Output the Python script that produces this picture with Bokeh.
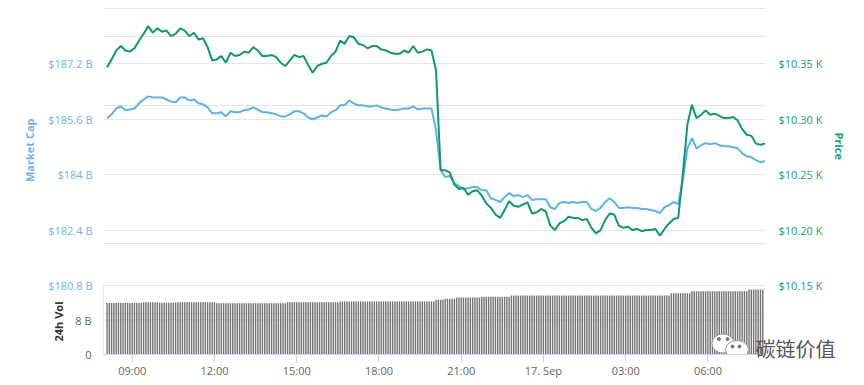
import math
import pandas as pd
from bokeh.plotting import figure
from bokeh.models import (Range1d, LinearAxis, FixedTicker, CustomJSTickFormatter, Span, Grid)
from bokeh.embed import file_html
from bokeh.resources import INLINE

# ---------------- data ----------------
line_times = pd.date_range("2019-09-16 08:05", periods=145, freq="10min")
vol_times = pd.date_range("2019-09-16 08:05", periods=288, freq="5min")

price_usd = [
    10347, 10354, 10362, 10366, 10362, 10361, 10364, 10371, 10377, 10384,
    10378, 10382, 10379, 10380, 10375, 10377, 10382, 10380, 10375, 10378,
    10372, 10373, 10365, 10353, 10354, 10357, 10351, 10360, 10357, 10358,
    10361, 10360, 10365, 10362, 10357, 10357, 10358, 10356, 10351, 10348,
    10353, 10358, 10356, 10357, 10349, 10342, 10348, 10350, 10351, 10357,
    10361, 10371, 10368, 10375, 10374, 10368, 10367, 10364, 10366, 10366,
    10363, 10362, 10360, 10359, 10359, 10362, 10360, 10366, 10360, 10361,
    10363, 10362, 10344, 10254, 10254, 10252, 10241, 10237, 10238, 10232,
    10235, 10236, 10231, 10224, 10220, 10214, 10211, 10218, 10226, 10222,
    10221, 10223, 10225, 10215, 10216, 10219, 10217, 10204, 10200, 10206,
    10208, 10212, 10211, 10211, 10209, 10210, 10202, 10197, 10200, 10209,
    10215, 10214, 10204, 10202, 10203, 10200, 10201, 10199, 10200, 10200,
    10201, 10195, 10201, 10206, 10210, 10211, 10250, 10295, 10313, 10301,
    10304, 10308, 10304, 10305, 10303, 10301, 10301, 10302, 10299, 10291,
    10286, 10285, 10278, 10277, 10278,
]

market_cap_b = [
    185.63, 185.74, 185.91, 185.97, 185.86, 185.88, 185.91, 186.06, 186.17, 186.26,
    186.23, 186.23, 186.23, 186.17, 186.11, 186.09, 186.23, 186.23, 186.14, 186.17,
    186.06, 186.03, 185.94, 185.77, 185.77, 185.80, 185.68, 185.83, 185.80, 185.80,
    185.86, 185.88, 185.94, 185.88, 185.80, 185.80, 185.77, 185.74, 185.68, 185.68,
    185.74, 185.83, 185.83, 185.77, 185.65, 185.60, 185.65, 185.71, 185.68, 185.80,
    185.86, 186.00, 186.00, 186.14, 186.06, 186.00, 186.00, 185.97, 185.97, 186.00,
    185.94, 185.91, 185.88, 185.86, 185.88, 185.91, 185.91, 185.97, 185.88, 185.91,
    185.91, 185.91, 185.28, 184.13, 183.93, 183.96, 183.76, 183.67, 183.58, 183.61,
    183.64, 183.64, 183.55, 183.55, 183.32, 183.27, 183.21, 183.35, 183.47, 183.38,
    183.41, 183.35, 183.41, 183.27, 183.29, 183.29, 183.29, 183.06, 183.01, 183.18,
    183.21, 183.18, 183.21, 183.18, 183.21, 183.21, 183.01, 182.95, 183.04, 183.21,
    183.32, 183.21, 183.04, 183.04, 183.06, 183.04, 183.04, 183.01, 183.01, 182.98,
    182.95, 182.89, 183.06, 183.12, 183.21, 183.15, 183.84, 184.76, 185.05, 184.76,
    184.85, 184.91, 184.88, 184.91, 184.85, 184.82, 184.82, 184.79, 184.76, 184.62,
    184.53, 184.50, 184.42, 184.36, 184.39,
]

volume_24h_b = [
    11.95, 11.95, 11.95, 11.95, 11.95, 11.95, 11.95, 11.95, 11.95, 11.95, 11.95, 11.95,
    11.95, 11.95, 11.95, 11.95, 12.13, 12.13, 12.13, 12.13, 12.13, 12.13, 12.13, 12.00,
    12.00, 12.00, 12.00, 12.00, 12.00, 12.00, 12.00, 12.10, 12.10, 12.10, 12.10, 12.10,
    12.10, 12.10, 12.10, 12.10, 12.10, 12.10, 12.10, 12.10, 12.10, 12.10, 12.10, 12.10,
    11.90, 11.90, 11.90, 11.90, 11.90, 11.90, 11.90, 11.90, 11.90, 11.90, 11.90, 11.90,
    11.90, 11.90, 11.90, 11.90, 11.90, 11.90, 11.90, 11.90, 11.90, 11.90, 11.90, 11.90,
    11.90, 11.90, 11.90, 11.90, 11.90, 11.90, 11.90, 12.10, 12.10, 12.10, 12.10, 12.10,
    12.10, 12.10, 12.10, 12.10, 12.10, 12.10, 12.10, 12.10, 12.10, 12.10, 12.10, 12.10,
    12.10, 12.10, 12.10, 12.10, 12.10, 12.10, 12.30, 12.30, 12.30, 12.30, 12.30, 12.30,
    12.30, 12.30, 12.30, 12.30, 12.30, 12.30, 12.30, 12.30, 12.30, 12.30, 12.30, 12.30,
    12.30, 12.30, 12.30, 12.30, 12.30, 12.30, 12.30, 12.30, 12.30, 12.30, 12.30, 12.30,
    12.30, 12.30, 12.30, 12.30, 12.30, 12.30, 12.30, 12.30, 12.30, 12.30, 12.30, 12.30,
    12.68, 12.68, 12.68, 12.68, 12.90, 12.90, 12.90, 12.90, 12.90, 13.20, 13.20, 13.20,
    13.20, 13.20, 13.20, 13.20, 13.20, 13.20, 13.20, 13.20, 13.38, 13.38, 13.38, 13.38,
    13.38, 13.38, 13.38, 13.38, 13.38, 13.38, 13.38, 13.38, 13.38, 13.68, 13.68, 13.68,
    13.68, 13.68, 13.68, 13.68, 13.68, 13.68, 13.68, 13.68, 13.68, 13.68, 13.68, 13.68,
    13.68, 13.68, 13.68, 13.68, 13.68, 13.68, 13.68, 13.68, 13.68, 13.68, 13.68, 13.68,
    13.68, 13.68, 13.68, 13.68, 13.68, 13.68, 13.68, 13.68, 13.68, 13.68, 13.68, 13.68,
    13.68, 13.68, 13.68, 13.68, 13.68, 13.68, 13.68, 13.68, 13.68, 13.68, 13.68, 13.68,
    13.68, 13.68, 13.68, 13.68, 13.68, 13.68, 13.68, 13.68, 13.68, 13.68, 13.68, 13.68,
    13.68, 13.68, 13.68, 13.68, 13.68, 13.68, 13.68, 14.20, 14.20, 14.20, 14.20, 14.20,
    14.20, 14.20, 14.20, 14.20, 14.68, 14.68, 14.68, 14.68, 14.68, 14.68, 14.68, 14.68,
    14.68, 14.68, 14.68, 14.68, 14.68, 14.68, 14.68, 14.68, 14.68, 14.68, 14.68, 14.68,
    14.68, 14.68, 14.68, 14.68, 14.68, 15.07, 15.07, 15.07, 15.07, 15.07, 15.07, 15.07,
]

cap_ticks = [180.8, 182.4, 184.0, 185.6, 187.2]
price_ticks = [10150, 10200, 10250, 10300, 10350]
vol_ticks = [0, 8]
vol_tick_labels = ["0", "8 B"]
x_tick_times = pd.to_datetime(["2019-09-16 09:00", "2019-09-16 12:00", "2019-09-16 15:00",
                               "2019-09-16 18:00", "2019-09-16 21:00", "2019-09-17 00:00",
                               "2019-09-17 03:00", "2019-09-17 06:00"])
x_tick_labels = ["09:00", "12:00", "15:00", "18:00", "21:00", "17. Sep", "03:00", "06:00"]

# ---------------- styling / layout ----------------
FONT = "Open Sans"
BLUE_LINE = "#5ab3e9"
BLUE_TEXT = "#6fb5ea"
GREEN_LINE = "#0e9a6b"
GREEN_TEXT = "#1c9d72"
GRID = "#e6e6e6"
AXIS_BLUE = "#ccd6eb"

FRAME_W, FRAME_H = 662, 348
LEFT_B, RIGHT_B, TOP_B = 103, 82, 6
x_start = pd.Timestamp("2019-09-16 07:57:10")
x_end = pd.Timestamp("2019-09-17 08:06:00")
cap_lo, cap_hi = 178.808, 188.854
price_lo, price_hi = 10087.75, 10401.7
vol_lo, vol_hi = 0.0, 80.70


def ms(t):
    return float(pd.Timestamp(t).value // 10**6)


def px_to_time(px):
    frac = (px - LEFT_B) / FRAME_W
    return x_start + (x_end - x_start) * frac


def py_to_cap(py):
    return cap_hi - (cap_hi - cap_lo) * (py - TOP_B) / FRAME_H


def py_to_vol(py):
    return vol_hi - (vol_hi - vol_lo) * (py - TOP_B) / FRAME_H


p = figure(frame_width=FRAME_W, frame_height=FRAME_H, x_axis_type="datetime",
           y_axis_location=None,
           x_range=Range1d(x_start, x_end), y_range=Range1d(cap_lo, cap_hi),
           output_backend="svg", toolbar_location=None,
           min_border_left=LEFT_B, min_border_right=RIGHT_B,
           min_border_top=TOP_B, min_border_bottom=0)
p.extra_y_ranges = {"price": Range1d(price_lo, price_hi), "vol": Range1d(vol_lo, vol_hi)}
p.outline_line_color = None
p.background_fill_color = "white"
p.border_fill_color = "white"
p.xgrid.visible = False


def plain(ax, color, size="11px", standoff=12, bold=False, font=FONT):
    ax.axis_line_color = None
    ax.major_tick_line_color = None
    ax.minor_tick_line_color = None
    ax.major_tick_out = 0
    ax.major_tick_in = 0
    ax.major_label_standoff = standoff
    ax.major_label_text_color = color
    ax.major_label_text_font = font
    ax.major_label_text_font_size = size
    if bold:
        ax.major_label_text_font_style = "bold"


def text_axis(side, range_name, pos, text, color, angle, standoff, size="11px",
              bold=True, font=FONT):
    kw = {} if range_name is None else {"y_range_name": range_name}
    ax = LinearAxis(ticker=FixedTicker(ticks=[pos]),
                    formatter=CustomJSTickFormatter(args=dict(t=text), code="return t;"), **kw)
    plain(ax, color, size=size, standoff=standoff, bold=bold, font=font)
    ax.major_label_orientation = angle
    p.add_layout(ax, side)
    return ax


# grid for market cap
p.add_layout(Grid(dimension=1, ticker=FixedTicker(ticks=cap_ticks + [188.8]),
                  grid_line_color=GRID))

# ---- left side, innermost first ----
va = LinearAxis(y_range_name="vol", ticker=FixedTicker(ticks=vol_ticks),
                formatter=CustomJSTickFormatter(args=dict(v=vol_ticks, l=vol_tick_labels),
                                                code="const i = v.indexOf(tick); return i < 0 ? '' : l[i];"))
plain(va, "#666666", standoff=12)
p.add_layout(va, "left")

ya = LinearAxis(ticker=FixedTicker(ticks=cap_ticks),
                formatter=CustomJSTickFormatter(code="return '$' + (Math.round(tick*10)/10) + ' B';"))
plain(ya, BLUE_TEXT, standoff=-20)
p.add_layout(ya, "left")

text_axis("left", "vol", py_to_vol(301), "24h Vol", "#333333", math.pi / 2, -13)
text_axis("left", None, py_to_cap(118), "Market Cap", BLUE_TEXT, math.pi / 2, 11)

# ---- right side, innermost first ----
pa = LinearAxis(y_range_name="price", ticker=FixedTicker(ticks=price_ticks),
                formatter=CustomJSTickFormatter(code="return '$' + (tick/1000).toFixed(2) + ' K';"))
plain(pa, GREEN_TEXT, standoff=13)
p.add_layout(pa, "right")

text_axis("right", "vol", py_to_vol(348), "碳链价值", "#555555", 0, -70, size="20px",
          bold=False, font="Noto Sans CJK SC")

text_axis("right", None, py_to_cap(132), "Price", GREEN_TEXT, -math.pi / 2, 1)

# ---- bottom axis: time ----
xa = p.xaxis[0]
x_tick_ms = [ms(t) for t in x_tick_times]
xa.ticker = FixedTicker(ticks=x_tick_ms)
xa.formatter = CustomJSTickFormatter(
    args=dict(tvals=x_tick_ms, tlabels=x_tick_labels),
    code="""
    for (let j = 0; j < tvals.length; j++) {
        if (Math.abs(tvals[j] - tick) < 1000) { return tlabels[j]; }
    }
    return '';
    """)
xa.axis_line_color = AXIS_BLUE
xa.major_tick_line_color = AXIS_BLUE
xa.minor_tick_line_color = None
xa.major_tick_out = 8
xa.major_tick_in = 0
xa.major_label_standoff = 0
xa.major_label_text_color = "#666666"
xa.major_label_text_font = FONT
xa.major_label_text_font_size = "11px"

# ---- volume panel ----
p.add_layout(Span(location=8, dimension="width", y_range_name="vol",
                  line_color=GRID, line_width=1, level="underlay"))
p.segment(x0=[x_start], y0=[0], x1=[x_start], y1=[16], y_range_name="vol",
          line_color=AXIS_BLUE, line_width=1)
p.vbar(x=vol_times, top=volume_24h_b, bottom=0, width=5 * 60 * 1000 * 0.62,
       y_range_name="vol", fill_color="#747474", line_color=None)

# ---- lines ----
p.line(line_times, market_cap_b, line_color=BLUE_LINE, line_width=2)
p.line(line_times, price_usd, y_range_name="price", line_color=GREEN_LINE, line_width=2)

# ---- watermark icon ----
p.ellipse(x=[px_to_time(722.5)], y=[py_to_vol(343)], width=22, height=19,
          width_units="screen", height_units="screen", y_range_name="vol",
          fill_color="white", line_color="#9a9a9a", line_width=1)
p.ellipse(x=[px_to_time(736.5)], y=[py_to_vol(349)], width=23, height=18,
          width_units="screen", height_units="screen", y_range_name="vol",
          fill_color="white", line_color="#9a9a9a", line_width=1)
p.scatter(x=[px_to_time(718.5), px_to_time(727), px_to_time(732), px_to_time(739)],
          y=[py_to_vol(338.5), py_to_vol(338.5), py_to_vol(346), py_to_vol(346)],
          y_range_name="vol", size=3, color="#777777")

open("out.html", "w").write(file_html(p, INLINE))
